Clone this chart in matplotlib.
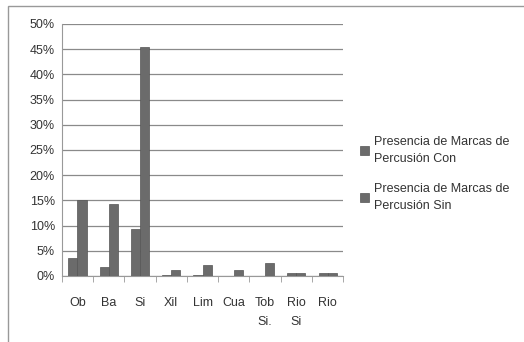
import numpy as np
import matplotlib.pyplot as plt
from matplotlib.patches import Rectangle

categorias = ['Ob', 'Ba', 'Si', 'Xil', 'Lim', 'Cua', 'Tob\nSi.', 'Rio\nSi', 'Rio']
con = [3.5, 1.8, 9.4, 0.2, 0.2, 0.0, 0.0, 0.6, 0.6]
sin = [15.0, 14.3, 45.5, 1.1, 2.1, 1.1, 2.6, 0.6, 0.6]
etiquetas = ['Presencia de Marcas de\nPercusión Con', 'Presencia de Marcas de\nPercusión Sin']

plt.rcParams['font.family'] = ['Liberation Sans', 'DejaVu Sans']

fig = plt.figure(figsize=(5.24, 3.42), dpi=100)
ax = fig.add_axes([0.118, 0.193, 0.537, 0.737])

x = np.arange(len(categorias))
w = 0.29
gris = '#6b6b6b'
ax.bar(x - w/2, con, w, color=gris, edgecolor='#555555', linewidth=0.5, label=etiquetas[0], zorder=3)
ax.bar(x + w/2, sin, w, color=gris, edgecolor='#555555', linewidth=0.5, label=etiquetas[1], zorder=3)

ax.set_xlim(-0.5, len(categorias) - 0.5)
ax.set_ylim(0, 50)
ax.set_yticks(np.arange(0, 51, 5))
ax.set_yticklabels([f'{v}%' for v in range(0, 51, 5)], fontsize=9, color='#333333')
ax.set_xticks(x)
ax.set_xticklabels(categorias, fontsize=9, color='#333333', va='top', linespacing=1.75)
ax.tick_params(axis='x', length=0, pad=15)
ax.tick_params(axis='y', length=0, pad=5)
ax.set_xticks(np.arange(-0.5, len(categorias), 1), minor=True)
ax.tick_params(axis='x', which='minor', length=4, color='#999999', direction='out')

ax.yaxis.grid(True, color='#8a8a8a', linewidth=0.9, zorder=0)
for s in ['top', 'right']:
    ax.spines[s].set_visible(False)
ax.spines['left'].set_color('#999999')
ax.spines['bottom'].set_color('#999999')

leg = ax.legend(loc='center left', bbox_to_anchor=(1.02, 0.405), frameon=False, fontsize=9,
                handlelength=0.7, handleheight=0.7, handletextpad=0.4, labelspacing=1.4,
                labelcolor='#333333')
for t in leg.get_texts():
    t.set_linespacing(1.6)

fig.patches.append(Rectangle((0.016, -0.01), 1.0, 0.993, transform=fig.transFigure,
                             fill=False, edgecolor='#999999', linewidth=1.0))

fig.savefig('out.png', dpi=100)
